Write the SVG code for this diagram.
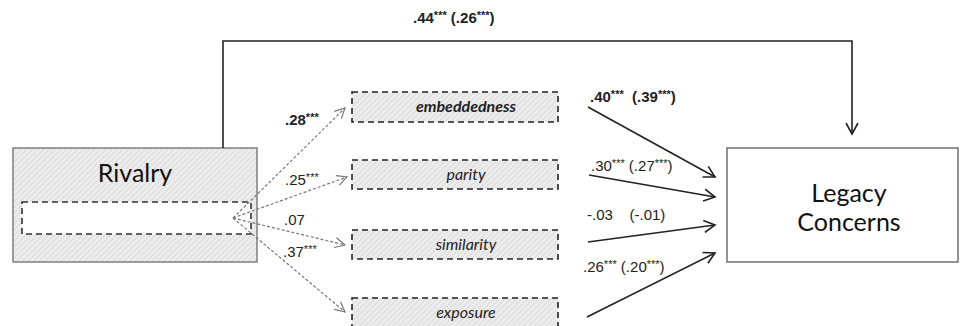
<svg xmlns="http://www.w3.org/2000/svg" width="960" height="326" viewBox="0 0 960 326">
<defs>
<pattern id="hatch" patternUnits="userSpaceOnUse" width="4" height="4" patternTransform="rotate(45)">
<rect width="4" height="4" fill="#ececec"/>
<line x1="0" y1="0" x2="0" y2="4" stroke="#d2d2d2" stroke-width="1.2"/>
</pattern>
<marker id="solidArr" markerWidth="14" markerHeight="14" refX="12" refY="7" orient="auto" markerUnits="userSpaceOnUse">
<path d="M1,1 L12,7 L1,13" fill="none" stroke="#222" stroke-width="1.6"/>
</marker>
<marker id="dotArr" markerWidth="14" markerHeight="14" refX="11" refY="6" orient="auto" markerUnits="userSpaceOnUse">
<path d="M1,1 L11,6 L1,11" fill="none" stroke="#777" stroke-width="1.2"/>
</marker>
</defs>
<style>
.lbl{font-family:"Liberation Sans",Arial,sans-serif;font-size:15px;fill:#222}
.b{font-weight:bold}
.st{font-size:11px}
.med{font-family:Lato,"Open Sans",sans-serif;font-size:16px;font-style:italic;fill:#222;text-anchor:middle}
.big{font-family:Lato,"Open Sans",sans-serif;font-size:25px;fill:#111;text-anchor:middle}
.mbox{fill:url(#hatch);stroke:#222;stroke-width:1.6;stroke-dasharray:6,4}
.solid{fill:none;stroke:#222;stroke-width:1.6}
.dotted{fill:none;stroke:#777;stroke-width:1.2;stroke-dasharray:3,2}
</style>
<rect width="960" height="326" fill="#fff"/>

<g id="rivalry">
<rect x="13" y="148" width="244" height="114" fill="url(#hatch)" stroke="#777" stroke-width="1.4"/>
<rect x="22" y="202" width="229" height="32" fill="#fff" stroke="#333" stroke-width="1.6" stroke-dasharray="6,4"/>
<text class="big" x="135" y="182" font-size="26">Rivalry</text>
</g>

<g id="legacy">
<rect x="727" y="148" width="231" height="114" fill="#fff" stroke="#666" stroke-width="1.4"/>
<text class="big" x="849" y="202">Legacy</text>
<text class="big" x="849" y="231">Concerns</text>
</g>

<g id="embeddedness">
<rect class="mbox" x="352" y="92" width="206" height="30"/>
<text class="med" x="466" y="112" font-weight="bold">embeddedness</text>
</g>
<g id="parity">
<rect class="mbox" x="352" y="160" width="206" height="29"/>
<text class="med" x="466" y="180">parity</text>
</g>
<g id="similarity">
<rect class="mbox" x="352" y="230" width="206" height="29"/>
<text class="med" x="466" y="250">similarity</text>
</g>
<g id="exposure">
<rect class="mbox" x="352" y="298" width="206" height="30"/>
<text class="med" x="466" y="318">exposure</text>
</g>

<g id="connectors">
<path class="solid" d="M223,148 V41 H852 V134" marker-end="url(#solidArr)"/>
<line class="dotted" x1="233" y1="218" x2="345" y2="108" marker-end="url(#dotArr)"/>
<line class="dotted" x1="233" y1="218" x2="347" y2="177" marker-end="url(#dotArr)"/>
<line class="dotted" x1="233" y1="218" x2="345" y2="245" marker-end="url(#dotArr)"/>
<line class="dotted" x1="233" y1="218" x2="345" y2="312" marker-end="url(#dotArr)"/>
<line class="solid" x1="588" y1="107" x2="715" y2="177" marker-end="url(#solidArr)"/>
<line class="solid" x1="589" y1="175" x2="715" y2="197" marker-end="url(#solidArr)"/>
<line class="solid" x1="588" y1="242" x2="715" y2="225" marker-end="url(#solidArr)"/>
<line class="solid" x1="587" y1="317" x2="715" y2="253" marker-end="url(#solidArr)"/>
</g>

<g id="labels">
<text class="lbl b" x="413" y="23">.44<tspan class="st" dy="-4">***</tspan><tspan dy="4"> (.26</tspan><tspan class="st" dy="-4">***</tspan><tspan dy="4">)</tspan></text>
<text class="lbl b" x="285" y="125">.28<tspan class="st" dy="-4">***</tspan></text>
<text class="lbl" x="285" y="185">.25<tspan class="st" dy="-4">***</tspan></text>
<text class="lbl" x="284" y="225">.07</text>
<text class="lbl" x="283" y="257">.37<tspan class="st" dy="-4">***</tspan></text>
<text class="lbl b" x="590" y="102" xml:space="preserve">.40<tspan class="st" dy="-4">***</tspan><tspan dy="4">  (.39</tspan><tspan class="st" dy="-4">***</tspan><tspan dy="4">)</tspan></text>
<text class="lbl" x="591" y="171">.30<tspan class="st" dy="-4">***</tspan><tspan dy="4"> (.27</tspan><tspan class="st" dy="-4">***</tspan><tspan dy="4">)</tspan></text>
<text class="lbl" x="587" y="220" xml:space="preserve">-.03    (-.01)</text>
<text class="lbl" x="583" y="272">.26<tspan class="st" dy="-4">***</tspan><tspan dy="4"> (.20</tspan><tspan class="st" dy="-4">***</tspan><tspan dy="4">)</tspan></text>
</g>
</svg>
